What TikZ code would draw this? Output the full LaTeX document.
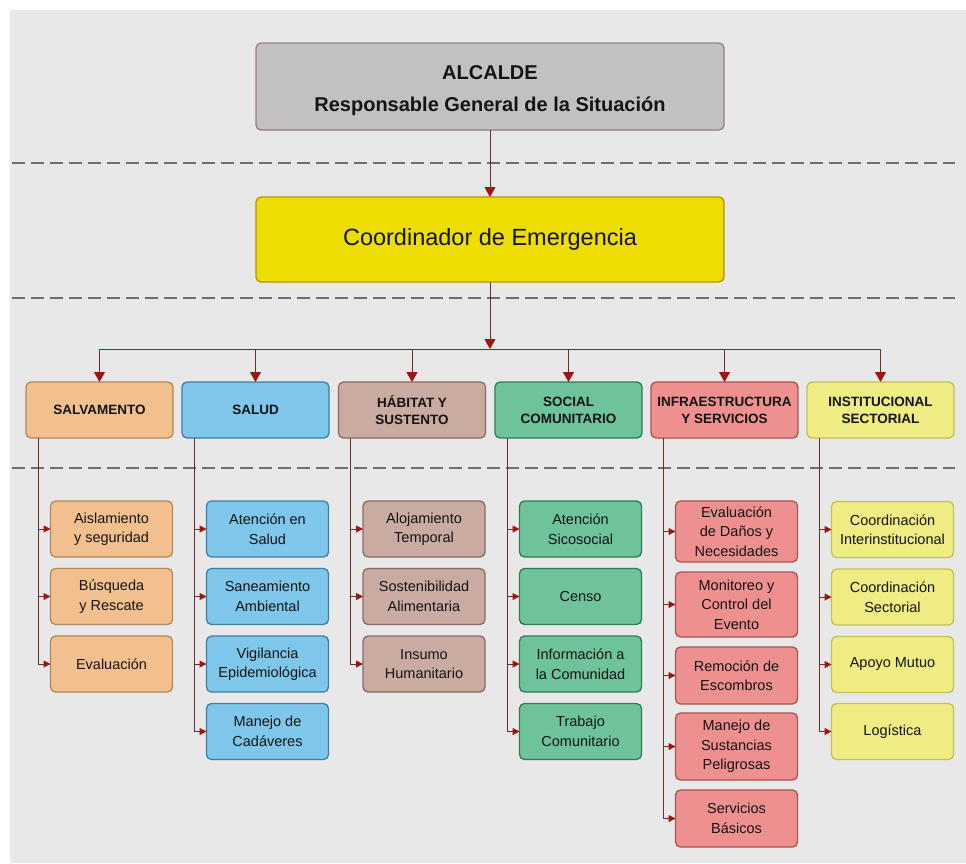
\documentclass[tikz,border=0pt]{standalone}
\usepackage{fontspec}
\setmainfont{Liberation Sans}
\usetikzlibrary{arrows.meta}
\definecolor{bgc}{HTML}{E8E8E8}
\definecolor{dashc}{HTML}{6E6E6E}
\definecolor{linec}{HTML}{6B2E2E}
\definecolor{tipc}{HTML}{9E1515}
\definecolor{alcF}{HTML}{C2C0C0}\definecolor{alcD}{HTML}{9A7E7E}
\definecolor{coF}{HTML}{EEDD00}\definecolor{coD}{HTML}{B09500}
\definecolor{salF}{HTML}{F2C08E}\definecolor{salD}{HTML}{B5875A}
\definecolor{sudF}{HTML}{7EC6EA}\definecolor{sudD}{HTML}{3E7FA2}
\definecolor{habF}{HTML}{C9ABA2}\definecolor{habD}{HTML}{8A6A62}
\definecolor{socF}{HTML}{6EC39B}\definecolor{socD}{HTML}{2F7B57}
\definecolor{infF}{HTML}{EE9090}\definecolor{infD}{HTML}{A85252}
\definecolor{insF}{HTML}{EEEC82}\definecolor{insD}{HTML}{C2C055}
\begin{document}
\begin{tikzpicture}[x=1pt,y=-1pt,
  box/.style={draw, rounded corners=5pt, line width=1.3pt, inner sep=0pt, outer sep=0pt, align=center, text=black!92},
  catbox/.style={box, minimum width=147pt, minimum height=56pt, font=\bfseries\fontsize{13.5}{17}\selectfont},
  subbox/.style={box, minimum width=122pt, minimum height=56pt, font=\fontsize{14.5}{19.5}\selectfont},
  arr/.style={draw=linec, line width=1pt, -{Triangle[width=11pt,length=10pt,fill=tipc,color=tipc]}},
  subarr/.style={draw=linec, line width=1pt, -{Triangle[width=7pt,length=7pt,fill=tipc,color=tipc]}},
  sep/.style={draw=dashc, line width=2.6pt, dash pattern=on 13pt off 6pt}
]
\useasboundingbox (0,0) rectangle (966,863);
\fill[white] (0,0) rectangle (966,863);
\fill[bgc] (10,10) rectangle (966,863);

% separators
\draw[sep] (12,163) -- (955,163);
\draw[sep] (12,298) -- (955,298);
\draw[sep] (12,468) -- (955,468);

% top boxes
\node[box, fill=alcF, draw=alcD, minimum width=468pt, minimum height=87pt] (alc) at (490,86.5) {};
\node[align=center, inner sep=0pt, text=black!92, font=\bfseries\fontsize{20}{32}\selectfont] (alctext) at (490,91)
  {ALCALDE\\Responsable General de la Situación};
\node[box, fill=coF, draw=coD, minimum width=468pt, minimum height=85pt,
  font=\fontsize{23.5}{28}\selectfont] (coord) at (490,239.5) {Coordinador de Emergencia};

\draw[arr] (alc.south) -- (coord.north);
\coordinate (bus) at (490,349);
\draw[arr] (coord.south) -- (bus);

% categories
\node[catbox, fill=salF, draw=salD] (c1) at (99.5,410) {SALVAMENTO};
\node[catbox, fill=sudF, draw=sudD] (c2) at (255.5,410) {SALUD};
\node[catbox, fill=habF, draw=habD] (c3) at (412,410) {HÁBITAT Y\\SUSTENTO};
\node[catbox, fill=socF, draw=socD] (c4) at (568.5,410) {SOCIAL\\COMUNITARIO};
\node[catbox, fill=infF, draw=infD] (c5) at (724.5,410) {INFRAESTRUCTURA\\Y SERVICIOS};
\node[catbox, fill=insF, draw=insD] (c6) at (880.5,410) {INSTITUCIONAL\\SECTORIAL};

\foreach \c in {c1,c2,c3,c4,c5,c6}{
  \draw[arr] (bus) -| (\c.north);
  \coordinate (v\c) at ([xshift=12pt]\c.south west);
}

% column 1
\node[subbox, fill=salF, draw=salD] (s11) at (111.5,529) {Aislamiento\\y seguridad};
\node[subbox, fill=salF, draw=salD] (s12) at (111.5,596.5) {Búsqueda\\y Rescate};
\node[subbox, fill=salF, draw=salD] (s13) at (111.5,664) {Evaluación};
% column 2
\node[subbox, fill=sudF, draw=sudD] (s21) at (267.5,529) {Atención en\\Salud};
\node[subbox, fill=sudF, draw=sudD] (s22) at (267.5,596.5) {Saneamiento\\Ambiental};
\node[subbox, fill=sudF, draw=sudD] (s23) at (267.5,664) {Vigilancia\\Epidemiológica};
\node[subbox, fill=sudF, draw=sudD] (s24) at (267.5,731.5) {Manejo de\\Cadáveres};
% column 3
\node[subbox, fill=habF, draw=habD] (s31) at (424,529) {Alojamiento\\Temporal};
\node[subbox, fill=habF, draw=habD] (s32) at (424,596.5) {Sostenibilidad\\Alimentaria};
\node[subbox, fill=habF, draw=habD] (s33) at (424,664) {Insumo\\Humanitario};
% column 4
\node[subbox, fill=socF, draw=socD] (s41) at (580.5,529) {Atención\\Sicosocial};
\node[subbox, fill=socF, draw=socD] (s42) at (580.5,596.5) {Censo};
\node[subbox, fill=socF, draw=socD] (s43) at (580.5,664) {Información a\\la Comunidad};
\node[subbox, fill=socF, draw=socD] (s44) at (580.5,731.5) {Trabajo\\Comunitario};
% column 5
\node[subbox, fill=infF, draw=infD, minimum height=61pt] (s51) at (736.5,531.5) {Evaluación\\de Daños y\\Necesidades};
\node[subbox, fill=infF, draw=infD, minimum height=65pt] (s52) at (736.5,604.5) {Monitoreo y\\Control del\\Evento};
\node[subbox, fill=infF, draw=infD, minimum height=57pt] (s53) at (736.5,675.5) {Remoción de\\Escombros};
\node[subbox, fill=infF, draw=infD, minimum height=67pt] (s54) at (736.5,746.5) {Manejo de\\Sustancias\\Peligrosas};
\node[subbox, fill=infF, draw=infD, minimum height=57pt] (s55) at (736.5,818.5) {Servicios\\Básicos};
% column 6
\node[subbox, fill=insF, draw=insD] (s61) at (892.5,529.5) {Coordinación\\Interinstitucional};
\node[subbox, fill=insF, draw=insD] (s62) at (892.5,597) {Coordinación\\Sectorial};
\node[subbox, fill=insF, draw=insD] (s63) at (892.5,664.5) {Apoyo Mutuo};
\node[subbox, fill=insF, draw=insD] (s64) at (892.5,731.5) {Logística};

% sub connectors
\foreach \s in {s11,s12,s13}{\draw[subarr] (vc1) |- (\s.west);}
\foreach \s in {s21,s22,s23,s24}{\draw[subarr] (vc2) |- (\s.west);}
\foreach \s in {s31,s32,s33}{\draw[subarr] (vc3) |- (\s.west);}
\foreach \s in {s41,s42,s43,s44}{\draw[subarr] (vc4) |- (\s.west);}
\foreach \s in {s51,s52,s53,s54,s55}{\draw[subarr] (vc5) |- (\s.west);}
\foreach \s in {s61,s62,s63,s64}{\draw[subarr] (vc6) |- (\s.west);}
\end{tikzpicture}
\end{document}
